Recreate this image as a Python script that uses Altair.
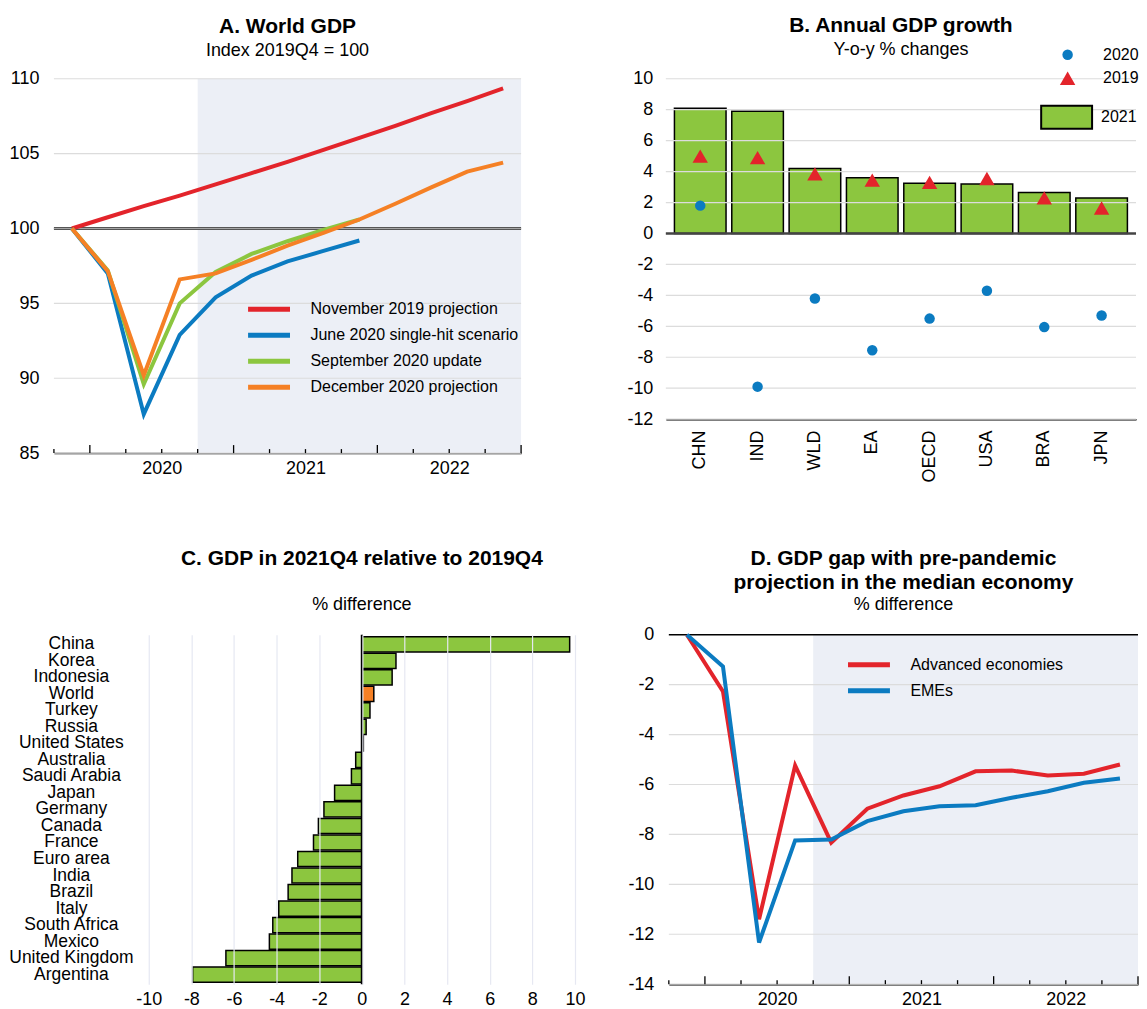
import altair as alt
import pandas as pd

FONT = "Liberation Sans"
RED = "#E3242B"
BLUE = "#0B7BC1"
GREEN = "#8CC63F"
ORANGE = "#F58025"
SHADE = "#ECEFF6"
GRID = "#DCDCDC"

# ---------------- shared quarterly axis (2019Q4 .. 2022Q4) ----------------
year_labels = ["2020", "2021", "2022"]
year_label_pos = [3, 7, 11]
major_ticks = [1, 5, 9, 13]
minor_ticks = [0, 2, 3, 4, 6, 7, 8, 10, 11, 12]
shade_start = [4]
shade_end = [13]

# ---------------- Panel A: World GDP ----------------
a_series = ["November 2019 projection", "June 2020 single-hit scenario",
            "September 2020 update", "December 2020 projection"]
a_colors = [RED, BLUE, GREEN, ORANGE]
a_nov2019 = [100, 100.75, 101.5, 102.2, 102.95, 103.7, 104.45, 105.25, 106.05, 106.85, 107.7, 108.5, 109.35]
a_jun2020 = [100, 97.0, 87.6, 92.9, 95.4, 96.85, 97.8, 98.5, 99.2]
a_sep2020 = [100, 97.2, 89.6, 95.0, 97.1, 98.3, 99.15, 99.9, 100.6]
a_dec2020 = [100, 97.15, 90.2, 96.6, 97.0, 97.9, 98.85, 99.7, 100.6, 101.65, 102.75, 103.8, 104.4]
a_ticks = [85, 90, 95, 100, 105, 110]

# ---------------- Panel B: Annual GDP growth ----------------
b_cats = ["CHN", "IND", "WLD", "EA", "OECD", "USA", "BRA", "JPN"]
b_2021 = [8.1, 7.9, 4.2, 3.6, 3.25, 3.2, 2.65, 2.3]
b_2019 = [5.0, 4.9, 3.85, 3.45, 3.3, 3.55, 2.3, 1.65]
b_2020 = [1.8, -9.9, -4.2, -7.55, -5.5, -3.7, -6.05, -5.3]
b_ticks = list(range(-12, 11, 2))

# ---------------- Panel C: GDP in 2021Q4 relative to 2019Q4 ----------------
c_countries = ["China", "Korea", "Indonesia", "World", "Turkey", "Russia", "United States",
               "Australia", "Saudi Arabia", "Japan", "Germany", "Canada", "France", "Euro area",
               "India", "Brazil", "Italy", "South Africa", "Mexico", "United Kingdom", "Argentina"]
c_values = [9.75, 1.6, 1.42, 0.56, 0.38, 0.2, 0.07, -0.29, -0.49, -1.28, -1.78, -2.04, -2.27,
            -3.01, -3.28, -3.46, -3.9, -4.18, -4.34, -6.38, -7.94]
c_highlight = "World"
c_ticks = list(range(-10, 11, 2))

# ---------------- Panel D: GDP gap with pre-pandemic projection ----------------
d_series = ["Advanced economies", "EMEs"]
d_colors = [RED, BLUE]
d_adv = [0, -2.27, -11.4, -5.24, -8.33, -6.97, -6.44, -6.07, -5.47, -5.44, -5.64, -5.57, -5.2]
d_eme = [0, -1.27, -12.33, -8.24, -8.2, -7.47, -7.07, -6.87, -6.83, -6.53, -6.27, -5.93, -5.76]
d_ticks = list(range(-14, 1, 2))

HYPHEN = "datum.value + ''"


def long_df(series_names, arrays):
    rows = []
    for name, arr in zip(series_names, arrays):
        for i, v in enumerate(arr):
            rows.append({"series": name, "q": i + 0.5, "value": v})
    return pd.DataFrame(rows)


label_expr = " : ".join(
    f"datum.value == {p} ? '{l}'" for p, l in zip(year_label_pos[:-1], year_labels[:-1])
) + f" : '{year_labels[-1]}'"

x_time_axis = alt.Axis(values=year_label_pos, labelExpr=label_expr, ticks=False, tickSize=0,
                       grid=False, domain=True, domainColor="black", domainWidth=1.5,
                       labelPadding=6, title=None, labelAngle=0, labelFlush=False)
x_time_scale = alt.Scale(domain=[0, 13], nice=False, zero=False)


def ttl(text, sub, offset=10, dx=0, subpad=5):
    return alt.TitleParams(text=text, subtitle=sub, font=FONT, fontSize=21, fontWeight="bold",
                           color="black", subtitleFont=FONT, subtitleFontSize=18,
                           subtitleColor="black", anchor="middle", offset=offset,
                           subtitlePadding=subpad, lineHeight=24, dx=dx)


def time_layers(H):
    xs = alt.X("start:Q", scale=x_time_scale, axis=x_time_axis)
    shade = alt.Chart(pd.DataFrame({"start": shade_start, "end": shade_end})).mark_rect(
        color=SHADE).encode(x=xs, x2="end:Q", y=alt.value(0), y2=alt.value(H))
    maj = alt.Chart(pd.DataFrame({"start": major_ticks})).mark_rule(
        color="black", strokeWidth=1.3).encode(x=xs, y=alt.value(H), y2=alt.value(H - 8))
    mnr = alt.Chart(pd.DataFrame({"start": minor_ticks})).mark_rule(
        color="black", strokeWidth=1.3).encode(x=xs, y=alt.value(H), y2=alt.value(H - 4))
    return shade, maj, mnr


def line_legend(lx, ly):
    return alt.Legend(orient="none", legendX=lx, legendY=ly, title=None,
                      symbolType="stroke", symbolSize=1764, symbolStrokeWidth=5,
                      labelFontSize=16, labelOffset=18, clipHeight=24, rowPadding=2,
                      padding=0, labelLimit=400)


def y_axis(values, pad, expr=None):
    kw = dict(values=values, grid=False, domain=False, ticks=False, tickSize=0,
              labelPadding=pad, title=None)
    if expr:
        kw["labelExpr"] = expr
    return alt.Axis(**kw)


# ---------------- build A ----------------
WA, HA = 468, 375
a_df = long_df(a_series, [a_nov2019, a_jun2020, a_sep2020, a_dec2020])
a_y = alt.Y("value:Q", scale=alt.Scale(domain=[85, 110], nice=False, zero=False),
            axis=y_axis(a_ticks, 15))
a_shade, a_maj, a_mnr = time_layers(HA)
a_grid = alt.Chart(pd.DataFrame({"value": a_ticks})).mark_rule(
    color=GRID, strokeWidth=1.2).encode(y=a_y)
a_lines = alt.Chart(a_df).mark_line(strokeWidth=4, strokeJoin="miter").encode(
    x=alt.X("q:Q", scale=x_time_scale, axis=x_time_axis),
    y=a_y,
    color=alt.Color("series:N", scale=alt.Scale(domain=a_series, range=a_colors),
                    legend=line_legend(192, 219)),
    detail="series:N",
)
a_base = alt.Chart(pd.DataFrame({"value": [100]}))
a_rule1 = a_base.mark_rule(color="#555555", strokeWidth=3.2).encode(y=a_y)
a_rule2 = a_base.mark_rule(color="#BBBBBB", strokeWidth=0.8).encode(y=a_y)
panelA = alt.layer(a_shade, a_grid, a_rule1, a_rule2, a_lines, a_maj, a_mnr).properties(
    width=WA, height=HA, title=ttl("A. World GDP", "Index 2019Q4 = 100"))

# ---------------- build B ----------------
WB, HB = 471, 341
b_bar_df = pd.DataFrame({"cat": b_cats, "v": b_2021, "kind": ["2021"] * len(b_cats)})
b_pts = []
for c, v19, v20 in zip(b_cats, b_2019, b_2020):
    b_pts.append({"cat": c, "v": v20, "year": "2020"})
    b_pts.append({"cat": c, "v": v19, "year": "2019"})
b_pt_df = pd.DataFrame(b_pts)

b_x = alt.X("cat:N", sort=b_cats,
            scale=alt.Scale(paddingInner=0.1, paddingOuter=0.15),
            axis=alt.Axis(labelAngle=-90, labelAlign="right", labelBaseline="middle",
                          labelPadding=11, ticks=False, tickSize=0, domain=True,
                          domainColor="black", domainWidth=1.5, title=None))
b_y = alt.Y("v:Q", scale=alt.Scale(domain=[-12, 10], nice=False),
            axis=y_axis(b_ticks, 13, HYPHEN))
b_bars = alt.Chart(b_bar_df).mark_bar(stroke="black", strokeWidth=1.5).encode(
    x=b_x, y=b_y,
    fill=alt.Fill("kind:N", scale=alt.Scale(domain=["2021"], range=[GREEN]),
                  legend=alt.Legend(orient="none", legendX=375, legendY=12, title=None,
                                    symbolType="M-1,-0.45L1,-0.45L1,0.45L-1,0.45Z",
                                    symbolSize=2601, symbolStrokeColor="black",
                                    symbolStrokeWidth=2, symbolFillColor=GREEN,
                                    labelFontSize=16, labelOffset=8, padding=0)),
)
b_grid = alt.Chart(pd.DataFrame({"v": b_ticks})).mark_rule(
    color=GRID, strokeWidth=1.2).encode(y=b_y)
b_zero = alt.Chart(pd.DataFrame({"v": [0]})).mark_rule(color="#444444", strokeWidth=2.5).encode(y=b_y)
b_points = alt.Chart(b_pt_df).mark_point(filled=True, opacity=1).encode(
    x=b_x, y=b_y,
    color=alt.Color("year:N", scale=alt.Scale(domain=["2020", "2019"], range=[BLUE, RED]),
                    legend=alt.Legend(orient="none", legendX=394, legendY=-32, title=None,
                                      labelFontSize=16, labelOffset=27, padding=0,
                                      rowPadding=7, symbolOpacity=1)),
    shape=alt.Shape("year:N", scale=alt.Scale(domain=["2020", "2019"],
                                              range=["circle", "triangle-up"]), legend=None),
    size=alt.Size("year:N", scale=alt.Scale(domain=["2020", "2019"], range=[110, 240]),
                  legend=None),
)
panelB = alt.layer(b_bars, b_grid, b_zero, b_points).properties(
    width=WB, height=HB, title=ttl("B. Annual GDP growth", "Y-o-y % changes", offset=-12))

# ---------------- build C ----------------
# plot area starts at the same left edge as panel A; the country labels sit in
# the unused part of the value scale to the left of -10
C_PX_PER_UNIT = 21.35
C_LEFT_GAP = 95
WC, HC = int(round(20 * C_PX_PER_UNIT + C_LEFT_GAP)), 350
c_lo = -10 - C_LEFT_GAP / C_PX_PER_UNIT
c_df = pd.DataFrame({"country": c_countries, "value": c_values})
c_x = alt.X("value:Q", scale=alt.Scale(domain=[c_lo, 10], nice=False, zero=False),
            axis=alt.Axis(values=c_ticks, grid=True, gridColor="#E6E8F2",
                          gridWidth=1.2, zindex=1, domain=False, ticks=False, tickSize=0,
                          labelPadding=6, title=None, labelExpr=HYPHEN, labelFlush=False))
c_bars = alt.Chart(c_df).mark_bar(stroke="black", strokeWidth=1.5).encode(
    x=c_x,
    y=alt.Y("country:N", sort=c_countries,
            scale=alt.Scale(paddingInner=0.08, paddingOuter=0.12),
            axis=alt.Axis(labelAlign="center", labelPadding=-17, ticks=False, tickSize=0,
                          domain=False, title=None, labelFontSize=17.5)),
    fill=alt.condition(alt.datum.country == c_highlight, alt.value(ORANGE), alt.value(GREEN)),
)
c_zero = alt.Chart(pd.DataFrame({"value": [0]})).mark_rule(color="black", strokeWidth=2.2).encode(x=c_x)
panelC = alt.layer(c_bars, c_zero).properties(
    width=WC, height=HC,
    title=ttl(["C. GDP in 2021Q4 relative to 2019Q4", " "], "% difference", offset=20,
              dx=C_LEFT_GAP / 2, subpad=3))

# ---------------- build D ----------------
WD, HD = 470, 350
d_df = long_df(d_series, [d_adv, d_eme])
d_y = alt.Y("value:Q", scale=alt.Scale(domain=[-14, 0], nice=False),
            axis=y_axis(d_ticks, 15, HYPHEN))
d_shade, d_maj, d_mnr = time_layers(HD)
d_grid = alt.Chart(pd.DataFrame({"value": d_ticks[:-1]})).mark_rule(
    color=GRID, strokeWidth=1.2).encode(y=d_y)
d_lines = alt.Chart(d_df).mark_line(strokeWidth=4, strokeJoin="miter").encode(
    x=alt.X("q:Q", scale=x_time_scale, axis=x_time_axis),
    y=d_y,
    color=alt.Color("series:N", scale=alt.Scale(domain=d_series, range=d_colors),
                    legend=line_legend(177, 18)),
    detail="series:N",
)
d_top = alt.Chart(pd.DataFrame({"value": [0]})).mark_rule(color="black", strokeWidth=1.5).encode(y=d_y)
panelD = alt.layer(d_shade, d_grid, d_top, d_lines, d_maj, d_mnr).properties(
    width=WD, height=HD,
    title=ttl(["D. GDP gap with pre-pandemic", "projection in the median economy"],
              "% difference", offset=12, subpad=3))

IND = dict(color="independent", fill="independent", shape="independent", size="independent")
row1 = alt.hconcat(panelA, panelB, spacing=103).resolve_scale(**IND)
row2 = alt.hconcat(panelC, panelD, spacing=41).resolve_scale(**IND)
chart = alt.vconcat(row1, row2, spacing=64).resolve_scale(**IND).properties(
    padding={"left": 0, "top": 6, "right": 0, "bottom": 0}
).configure(font=FONT).configure_view(stroke=None).configure_axis(
    labelFont=FONT, labelFontSize=18, labelColor="black"
).configure_legend(labelFont=FONT, labelColor="black")

chart.save("out.html", embed_options={"renderer": "svg", "actions": False})
